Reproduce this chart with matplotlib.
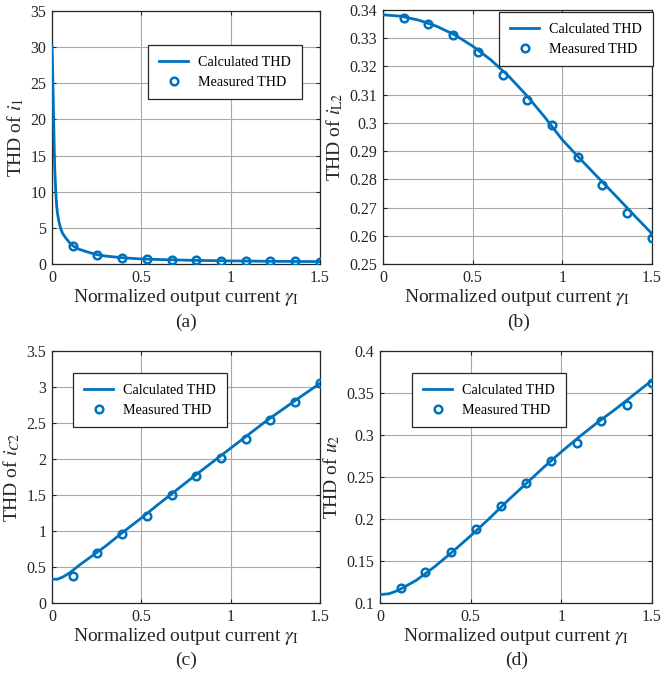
import numpy as np
import matplotlib
matplotlib.use("Agg")
import matplotlib.pyplot as plt
from matplotlib.ticker import FixedLocator, FixedFormatter

plt.rcParams['font.family'] = ['Liberation Serif', 'DejaVu Serif']
plt.rcParams['mathtext.fontset'] = 'stix'

# ---------------- data ----------------
x_meas = [0.115, 0.25, 0.39, 0.53, 0.67, 0.805, 0.945, 1.085, 1.22, 1.36, 1.5]

# (a) THD of i1
a_calc_x = [0, 0.002, 0.005, 0.008, 0.01, 0.013, 0.015, 0.02, 0.025, 0.03, 0.04, 0.05,
            0.06, 0.08, 0.1, 0.118, 0.15, 0.2, 0.25, 0.3, 0.4, 0.5, 0.6, 0.8, 1.0, 1.2, 1.5]
a_calc_y = [30.2, 28.5, 25.0, 21.5, 19.0, 15.5, 13.5, 10.5, 8.4, 7.1, 5.7, 4.8,
            4.2, 3.5, 2.9, 2.5, 2.05, 1.65, 1.3, 1.1, 0.85, 0.7, 0.62, 0.5, 0.43, 0.38, 0.33]
a_meas_y = [2.45, 1.2, 0.85, 0.68, 0.58, 0.5, 0.45, 0.41, 0.38, 0.36, 0.33]

# (b) THD of iL2
b_calc_x = [0, 0.1, 0.2, 0.3, 0.4, 0.5, 0.6, 0.7, 0.8, 0.9, 1.0, 1.1, 1.2, 1.3, 1.4, 1.5]
b_calc_y = [0.3383, 0.3378, 0.3364, 0.3342, 0.3312, 0.3272, 0.3224, 0.3166, 0.3098, 0.3022,
            0.2940, 0.2872, 0.2806, 0.2740, 0.2673, 0.2607]
b_meas_y = [0.3371, 0.3350, 0.3312, 0.3250, 0.3170, 0.3082, 0.2991, 0.2880, 0.2780, 0.2680, 0.2591]

# (c) THD of iC2
c_calc_x = [0, 0.03, 0.06, 0.1, 0.15, 0.2, 0.3, 0.4, 0.5, 0.6, 0.8, 1.0, 1.2, 1.4, 1.5]
c_calc_y = [0.33, 0.33, 0.36, 0.42, 0.52, 0.61, 0.79, 0.99, 1.18, 1.38, 1.77, 2.15, 2.53, 2.88, 3.05]
c_meas_y = [0.37, 0.69, 0.96, 1.21, 1.50, 1.77, 2.01, 2.28, 2.54, 2.79, 3.06]

# (d) THD of u2
d_calc_x = [0, 0.05, 0.1, 0.2, 0.3, 0.4, 0.5, 0.6, 0.7, 0.8, 0.9, 1.0, 1.1, 1.2, 1.3, 1.4, 1.5]
d_calc_y = [0.110, 0.111, 0.115, 0.127, 0.143, 0.161, 0.180, 0.200, 0.221, 0.241, 0.261, 0.280,
            0.298, 0.315, 0.331, 0.348, 0.365]
d_meas_y = [0.1178, 0.1364, 0.1610, 0.1880, 0.2150, 0.2430, 0.2688, 0.2900, 0.3168, 0.3358, 0.3616]

x_ticks = [0, 0.5, 1, 1.5]
x_ticklabels = ['0', '0.5', '1', '1.5']
a_yticks = [0, 5, 10, 15, 20, 25, 30, 35]
a_yticklabels = ['0', '5', '10', '15', '20', '25', '30', '35']
b_yticks = [0.25, 0.26, 0.27, 0.28, 0.29, 0.30, 0.31, 0.32, 0.33, 0.34]
b_yticklabels = ['0.25', '0.26', '0.27', '0.28', '0.29', '0.3', '0.31', '0.32', '0.33', '0.34']
c_yticks = [0, 0.5, 1, 1.5, 2, 2.5, 3, 3.5]
c_yticklabels = ['0', '0.5', '1', '1.5', '2', '2.5', '3', '3.5']
d_yticks = [0.1, 0.15, 0.2, 0.25, 0.3, 0.35, 0.4]
d_yticklabels = ['0.1', '0.15', '0.2', '0.25', '0.3', '0.35', '0.4']

ylabels = [r'THD of $i_1$', r'THD of $i_{\mathrm{L2}}$', r'THD of $i_{C2}$', r'THD of $u_2$']
panel_labels = ['(a)', '(b)', '(c)', '(d)']
legend_labels = ['Calculated THD', 'Measured THD']

# ---------------- layout ----------------
W, H = 663, 681
fig = plt.figure(figsize=(W / 100, H / 100), dpi=100)
BLUE = '#0072BD'

def fx(px):
    return px / W

def fy(py):
    return 1 - py / H

# axes boxes in pixel coords: left, top, right, bottom
boxes = [(52, 11, 320, 264), (383, 10, 652, 264), (52, 351, 320, 603), (380, 351, 652, 603)]
legend_anchor = [(148, 45), (499, 12), (73, 373), (412, 373)]
panel_pos = [(186, 322), (519, 322), (186, 660), (517, 660)]

datasets = [
    (a_calc_x, a_calc_y, a_meas_y, (0, 35), a_yticks, a_yticklabels),
    (b_calc_x, b_calc_y, b_meas_y, (0.25, 0.34), b_yticks, b_yticklabels),
    (c_calc_x, c_calc_y, c_meas_y, (0, 3.5), c_yticks, c_yticklabels),
    (d_calc_x, d_calc_y, d_meas_y, (0.1, 0.4), d_yticks, d_yticklabels),
]

for i, (cx, cy, my, ylim, yt, ytl) in enumerate(datasets):
    l, t, r, b = boxes[i]
    ax = fig.add_axes([fx(l), fy(b), (r - l) / W, (b - t) / H])
    ax.plot(cx, cy, color=BLUE, lw=2.0, label=legend_labels[0], zorder=3)
    ax.plot(x_meas, my, linestyle='none', marker='o', ms=5.5, mew=1.8,
            mec=BLUE, mfc='none', label=legend_labels[1], zorder=4)
    ax.set_xlim(0, 1.5)
    ax.set_ylim(*ylim)
    ax.xaxis.set_major_locator(FixedLocator(x_ticks))
    ax.xaxis.set_major_formatter(FixedFormatter(x_ticklabels))
    ax.yaxis.set_major_locator(FixedLocator(yt))
    ax.yaxis.set_major_formatter(FixedFormatter(ytl))
    ax.grid(True, color='#a8a8a8', lw=0.8)
    ax.set_axisbelow(True)
    ax.tick_params(direction='in', top=True, right=True, labelsize=11.5,
                   length=3, width=0.8, colors='#262626', pad=4)
    for s in ax.spines.values():
        s.set_color('#262626')
        s.set_linewidth(0.9)
    ax.set_xlabel(r'Normalized output current $\gamma_{\mathrm{I}}$', fontsize=14,
                  color='#262626', labelpad=1)
    ax.set_ylabel(ylabels[i], fontsize=14, color='#262626', labelpad=3)
    lx, ly = legend_anchor[i]
    leg = ax.legend(loc='upper left', bbox_to_anchor=(fx(lx), fy(ly)),
                    bbox_transform=fig.transFigure, borderaxespad=0,
                    fancybox=False, framealpha=1, edgecolor='#262626',
                    fontsize=10.2, handlelength=2.1, borderpad=0.75,
                    labelspacing=0.5, handletextpad=0.7)
    leg.get_frame().set_linewidth(0.9)
    px, py = panel_pos[i]
    fig.text(fx(px), fy(py), panel_labels[i], ha='center', va='center',
             fontsize=14, color='#262626')

fig.savefig('out.png', dpi=100)
